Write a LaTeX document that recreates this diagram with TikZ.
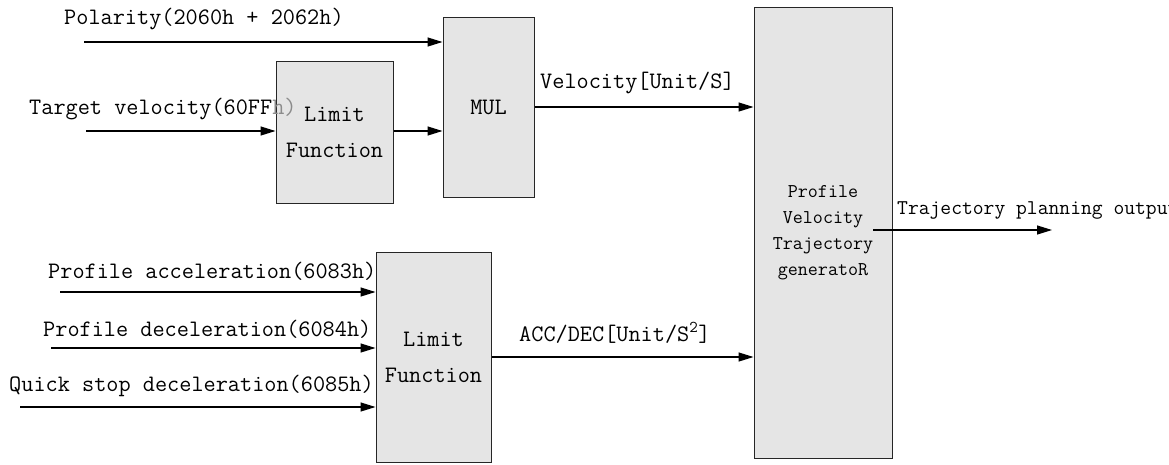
\documentclass[tikz,border=0pt]{standalone}
\usetikzlibrary{arrows.meta}
\begin{document}
\begin{tikzpicture}[x=1pt,y=-1pt,
  blk/.style={draw=black!85, fill=black!10, line width=1pt, inner sep=0pt, align=center},
  arr/.style={-{Triangle[length=15pt,width=9pt]}, line width=1.2pt},
  lbl/.style={font=\ttfamily\fontsize{23.6}{28}\selectfont, anchor=west, inner sep=0pt},
  big23/.style={font=\ttfamily\fontsize{23.6}{36}\selectfont},
]
\useasboundingbox (0,0) rectangle (1169,464);
% blocks
\node[blk, big23, minimum width=117pt, minimum height=142pt] (lim1) at (334.5,132) {Limit\\Function};
\node[blk, big23, minimum width=91pt, minimum height=180pt] (mul) at (488.5,107) {MUL};
\node[blk, minimum width=138pt, minimum height=451pt, font=\ttfamily\fontsize{19.5}{26}\selectfont] (gen) at (823,232.5) {Profile\\Velocity\\Trajectory\\generatoR};
\node[blk, big23, minimum width=115pt, minimum height=210pt] (lim2) at (433.5,357) {Limit\\Function};
% input coordinates
\coordinate (p0) at (84,42);
\coordinate (t0) at (86,131);
\coordinate (a0) at (60,292);
\coordinate (d0) at (51,348);
\coordinate (q0) at (20,407);
\coordinate (o0) at (873,230);
\coordinate (o1) at (1052,230);
% connectors
\draw[arr] (p0) -- (p0 -| mul.west);
\draw[arr] (t0) -- (t0 -| lim1.west);
\draw[arr] (lim1.east |- t0) -- (t0 -| mul.west);
\draw[arr] (mul.east) -- (mul.east -| gen.west);
\draw[arr] (a0) -- (a0 -| lim2.west);
\draw[arr] (d0) -- (d0 -| lim2.west);
\draw[arr] (q0) -- (q0 -| lim2.west);
\draw[arr] (lim2.east) -- (lim2.east -| gen.west);
\draw[arr] (o0) -- (o1);
% labels
\node[lbl] (lp) at (64,19) {Polarity(2060h + 2062h)};
\node[lbl] (lt) at (29,109) {Target velocity(60FF\textcolor{black!45}{h)}};
\node[lbl] (lv) at (540,83) {Velocity[Unit/S]};
\node[lbl] (la) at (48,271) {Profile acceleration(6083h)};
\node[lbl] (ld) at (43,329) {Profile deceleration(6084h)};
\node[lbl] (lq) at (9,386) {Quick stop deceleration(6085h)};
\node[lbl] (lacc) at (519,333) {ACC/DEC[Unit/S\textsuperscript{2}]};
\node[lbl, font=\ttfamily\fontsize{21}{24}\selectfont] (lo) at (897,210) {Trajectory planning output};
\end{tikzpicture}
\end{document}
